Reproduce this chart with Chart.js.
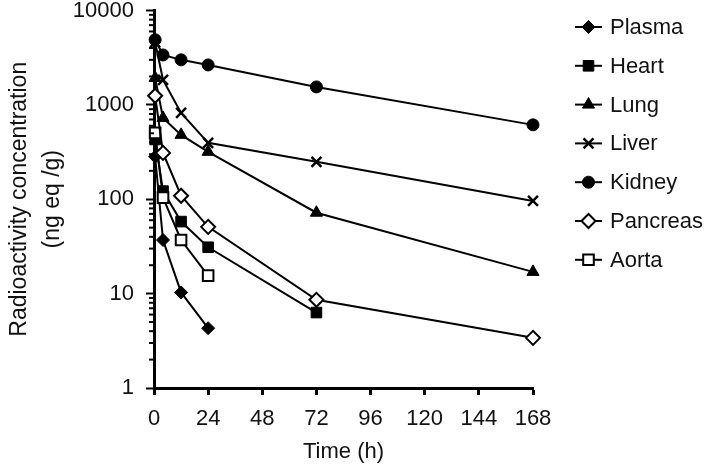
<!DOCTYPE html>
<html>
<head>
<meta charset="utf-8">
<script src="https://cdn.jsdelivr.net/npm/chart.js@4.4.0/dist/chart.umd.min.js"></script>
<style>
  html, body { margin: 0; padding: 0; background: #fff; }
</style>
</head>
<body>
<canvas id="chart" width="709" height="466"></canvas>
<script>
// sampling times (h)
const times = [0.5, 4, 12, 24, 72, 168];
const tissues = ["Plasma", "Heart", "Lung", "Liver", "Kidney", "Pancreas", "Aorta"];

// radioactivity concentration (ng eq/g)
const plasma = [282, 37, 10.3, 4.3];
const heart = [430, 122, 58, 31, 6.3];
const lung = [1930, 728, 481, 318, 72, 17];
const liver = [4600, 1840, 823, 396, 249, 96];
const kidney = [4900, 3380, 3000, 2650, 1550, 614];
const pancreas = [1250, 310, 109, 51, 8.6, 3.4];
const aorta = [505, 104, 37, 15.5];

const xTicks = [0, 24, 48, 72, 96, 120, 144, 168];
const yTicks = [1, 10, 100, 1000, 10000];

const series = [plasma, heart, lung, liver, kidney, pancreas, aorta];
const markers = [
  { style: "rectRot", radius: 6.5, fill: "#000", border: 1 },
  { style: "rect", radius: 7.5, fill: "#000", border: 1 },
  { style: "triangle", radius: 7, fill: "#000", border: 1 },
  { style: "crossRot", radius: 7, fill: "#000", border: 2.5 },
  { style: "circle", radius: 6, fill: "#000", border: 1 },
  { style: "rectRot", radius: 7, fill: "#fff", border: 2 },
  { style: "rect", radius: 7.5, fill: "#fff", border: 2 },
];

const FONT = "'Liberation Sans', Arial, sans-serif";

const datasets = series.map((vals, i) => ({
  label: tissues[i],
  data: vals.map((v, j) => ({ x: times[j], y: v })),
  borderColor: "#000",
  borderWidth: 2,
  pointStyle: markers[i].style,
  pointRadius: markers[i].radius,
  pointBackgroundColor: markers[i].fill,
  pointBorderColor: "#000",
  pointBorderWidth: markers[i].border,
  tension: 0,
  clip: false,
  order: markers[i].fill === "#fff" ? 0 : 1,
}));

// minor log ticks on y axis + legend with line and marker
const extras = {
  id: "extras",
  afterDraw(chart) {
    const ctx = chart.ctx;
    const ys = chart.scales.y;
    const left = chart.chartArea.left;
    ctx.save();
    ctx.strokeStyle = "#000";
    ctx.lineWidth = 2;
    for (let d = 1; d < 10000; d *= 10) {
      for (let m = 2; m <= 9; m++) {
        const py = ys.getPixelForValue(d * m);
        ctx.beginPath();
        ctx.moveTo(left - 5, py);
        ctx.lineTo(left, py);
        ctx.stroke();
      }
    }

    chart.data.datasets.forEach((ds, i) => {
      const cy = 27 + i * 38.8;
      ctx.strokeStyle = "#000";
      ctx.lineWidth = 2;
      ctx.beginPath();
      ctx.moveTo(575, cy);
      ctx.lineTo(602, cy);
      ctx.stroke();
      ctx.fillStyle = ds.pointBackgroundColor;
      ctx.lineWidth = ds.pointBorderWidth;
      Chart.helpers.drawPoint(ctx, {
        pointStyle: ds.pointStyle,
        radius: ds.pointRadius,
        borderWidth: ds.pointBorderWidth,
        rotation: 0,
      }, 588.5, cy);
      ctx.fillStyle = "#111";
      ctx.font = "22px " + FONT;
      ctx.textBaseline = "middle";
      ctx.textAlign = "left";
      ctx.fillText(ds.label, 610, cy + 1);
    });
    ctx.restore();
  },
};

new Chart(document.getElementById("chart"), {
  type: "line",
  data: { datasets },
  options: {
    responsive: false,
    animation: false,
    layout: { padding: { top: 10.5, right: 176, left: 0, bottom: 0 } },
    plugins: {
      legend: { display: false },
      tooltip: { enabled: false },
    },
    scales: {
      x: {
        type: "linear",
        min: 0,
        max: 168,
        afterBuildTicks: (scale) => {
          scale.ticks = xTicks.map((v) => ({ value: v }));
        },
        afterFit: (scale) => {
          scale.height = 78;
          scale.paddingLeft = 0;
          scale.paddingRight = 0;
        },
        border: { display: true, color: "#000", width: 3 },
        grid: {
          drawOnChartArea: false,
          drawTicks: true,
          tickLength: 7,
          tickWidth: 3,
          tickColor: "#000",
        },
        ticks: {
          color: "#111",
          font: { family: FONT, size: 22 },
          padding: 11,
          maxRotation: 0,
          autoSkip: false,
        },
        title: {
          display: true,
          text: "Time (h)",
          color: "#111",
          font: { family: FONT, size: 22, lineHeight: 1.2 },
          padding: { top: 0, bottom: 1 },
        },
      },
      y: {
        type: "logarithmic",
        min: 1,
        max: 10000,
        afterBuildTicks: (scale) => {
          scale.ticks = yTicks.map((v) => ({ value: v, major: true }));
        },
        afterFit: (scale) => {
          scale.width = 154;
          scale.paddingTop = 0;
          scale.paddingBottom = 0;
        },
        border: { display: true, color: "#000", width: 3 },
        grid: {
          drawOnChartArea: false,
          drawTicks: true,
          tickLength: 8,
          tickWidth: 2,
          tickColor: "#000",
        },
        ticks: {
          color: "#111",
          font: { family: FONT, size: 22 },
          padding: 12,
          autoSkip: false,
          callback: (v) => String(v),
        },
        title: {
          display: true,
          text: ["Radioactivity concentration", "(ng eq /g)"],
          color: "#111",
          font: { family: FONT, size: 23, lineHeight: 1.45 },
          padding: { top: 3, bottom: 0 },
        },
      },
    },
  },
  plugins: [extras],
});
</script>
</body>
</html>
